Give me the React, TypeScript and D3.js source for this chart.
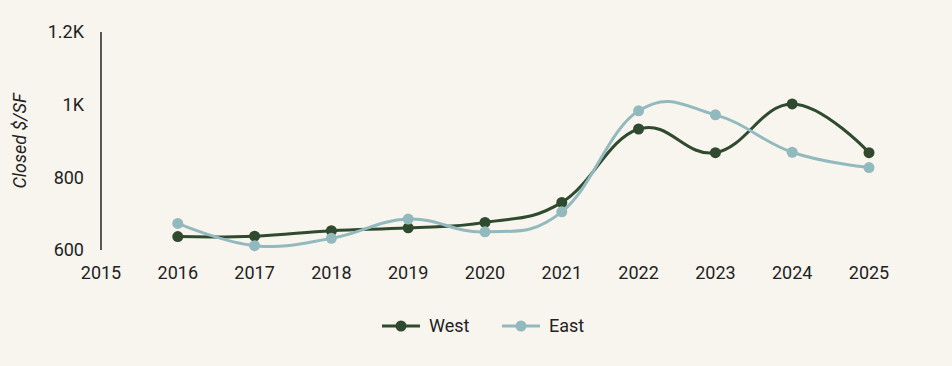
import { useEffect, useRef } from "react";
import * as d3 from "d3";

const YEARS = [2016, 2017, 2018, 2019, 2020, 2021, 2022, 2023, 2024, 2025];
const WEST = [637, 638, 653, 661, 676, 731, 933, 868, 1002, 868];
const EAST = [673, 612, 632, 685, 650, 705, 983, 972, 869, 827];
const Y_TICKS = [600, 800, 1000, 1200];
const X_TICKS = [2015, 2016, 2017, 2018, 2019, 2020, 2021, 2022, 2023, 2024, 2025];

const SERIES = [
  { key: "west", label: "West", color: "#2f4a2f", values: WEST },
  { key: "east", label: "East", color: "#92babe", values: EAST },
];

const BG = "#f8f5ee";
const FONT = "Roboto, 'Noto Sans', sans-serif";

export default function App() {
  const svgRef = useRef<SVGSVGElement | null>(null);

  useEffect(() => {
    const width = 952;
    const height = 366;
    const svg = d3.select(svgRef.current);
    svg.selectAll("*").remove();

    const x = d3.scaleLinear().domain([2015, 2025]).range([101, 869]);
    const y = d3.scaleLinear().domain([600, 1200]).range([250, 32]);

    svg.append("rect").attr("width", width).attr("height", height).attr("fill", BG);

    // y axis line
    svg.append("line")
      .attr("x1", 101).attr("x2", 101)
      .attr("y1", y(1200)).attr("y2", y(600))
      .attr("stroke", "#222").attr("stroke-width", 1.5);

    const fmt = (v: number) => (v >= 1000 ? `${d3.format("~g")(v / 1000)}K` : `${v}`);

    svg.append("g")
      .selectAll("text")
      .data(Y_TICKS)
      .join("text")
      .attr("x", 84)
      .attr("y", (d) => y(d))
      .attr("dy", "0.35em")
      .attr("text-anchor", "end")
      .attr("font-family", FONT)
      .attr("font-size", 18)
      .attr("fill", "#222")
      .text(fmt);

    svg.append("g")
      .selectAll("text")
      .data(X_TICKS)
      .join("text")
      .attr("x", (d) => x(d))
      .attr("y", 279)
      .attr("text-anchor", "middle")
      .attr("font-family", FONT)
      .attr("font-size", 18)
      .attr("fill", "#222")
      .text((d) => `${d}`);

    svg.append("text")
      .attr("transform", `translate(26,${(y(600) + y(1200)) / 2}) rotate(-90)`)
      .attr("text-anchor", "middle")
      .attr("font-family", FONT)
      .attr("font-size", 18)
      .attr("font-style", "italic")
      .attr("fill", "#222")
      .text("Closed $/SF");

    const line = d3
      .line<number>()
      .x((_, i) => x(YEARS[i]))
      .y((d) => y(d))
      .curve(d3.curveCardinal.tension(-0.2));

    SERIES.forEach((s) => {
      svg.append("path")
        .datum(s.values)
        .attr("fill", "none")
        .attr("stroke", s.color)
        .attr("stroke-width", 3)
        .attr("d", line);
    });

    SERIES.forEach((s) => {
      svg.append("g")
        .selectAll("circle")
        .data(s.values)
        .join("circle")
        .attr("cx", (_, i) => x(YEARS[i]))
        .attr("cy", (d) => y(d))
        .attr("r", 5.5)
        .attr("fill", s.color);
    });

    // legend
    const legend = svg.append("g").attr("transform", "translate(382,326)");
    const offsets = [0, 120];
    SERIES.forEach((s, i) => {
      const g = legend.append("g").attr("transform", `translate(${offsets[i]},0)`);
      g.append("line").attr("x1", 0).attr("x2", 38).attr("y1", 0).attr("y2", 0)
        .attr("stroke", s.color).attr("stroke-width", 3);
      g.append("circle").attr("cx", 19).attr("cy", 0).attr("r", 5.5).attr("fill", s.color);
      g.append("text")
        .attr("x", 47)
        .attr("y", 0)
        .attr("dy", "0.35em")
        .attr("font-family", FONT)
        .attr("font-size", 18)
        .attr("fill", "#222")
        .text(s.label);
    });
  }, []);

  return (
    <div style={{ position: "fixed", left: 0, top: 0, background: BG, width: 952, height: 366 }}>
      <svg ref={svgRef} width={952} height={366} style={{ display: "block" }} />
    </div>
  );
}
